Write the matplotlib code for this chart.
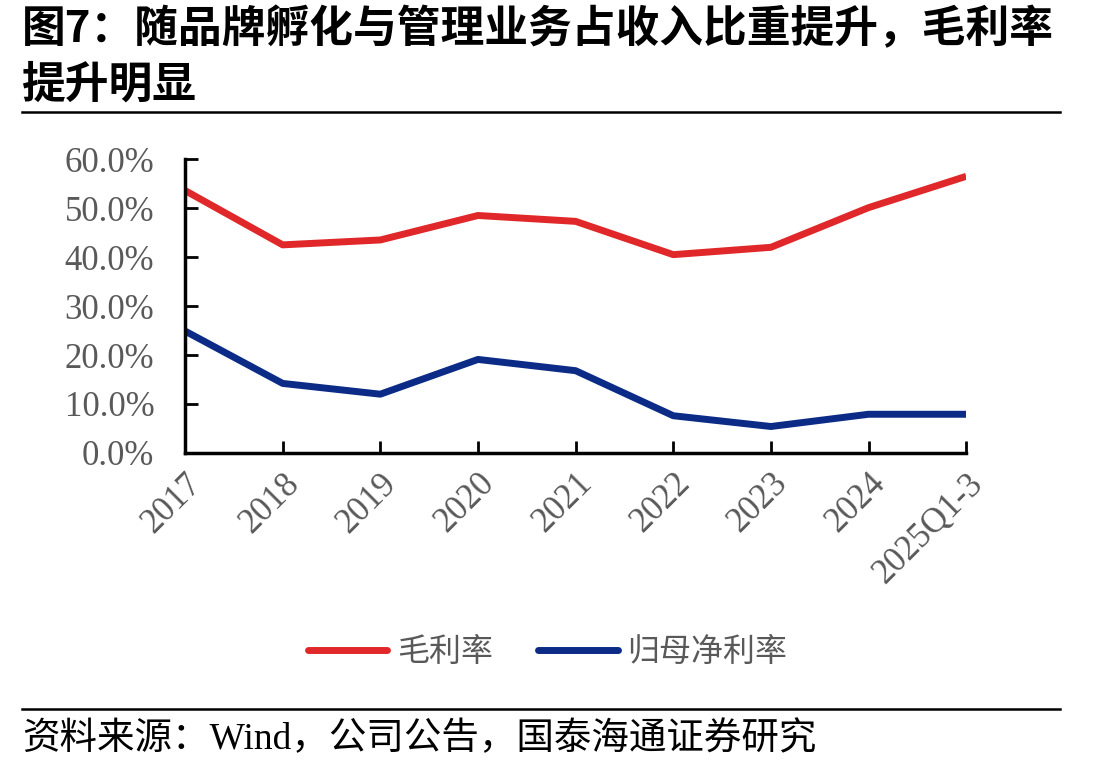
import matplotlib
matplotlib.use('Agg')
import matplotlib.pyplot as plt
from matplotlib.lines import Line2D

plt.rcParams['font.family'] = ['Liberation Serif', 'Noto Sans CJK SC', 'DejaVu Sans']

# 数据
years = ['2017', '2018', '2019', '2020', '2021', '2022', '2023', '2024', '2025Q1-3']
gross_margin = [53.6, 42.5, 43.5, 48.5, 47.3, 40.5, 42.0, 50.1, 56.5]
net_margin = [24.9, 14.2, 12.0, 19.1, 16.8, 7.6, 5.4, 7.9, 7.9]
yticks = [0, 10, 20, 30, 40, 50, 60]

RED = '#E0282A'
BLUE = '#0B2B86'
GREY = '#595959'

fig = plt.figure(figsize=(11.08, 7.69), dpi=100)
ax = fig.add_axes([0.167, 0.411, 0.705, 0.382])

x = list(range(len(years)))
ax.plot(x, gross_margin, color=RED, linewidth=5, solid_capstyle='butt', label='毛利率')
ax.plot(x, net_margin, color=BLUE, linewidth=5, solid_capstyle='butt', label='归母净利率')

ax.set_xlim(0, len(years) - 1)
ax.set_ylim(0, 60)
ax.set_yticks(yticks)
ax.set_yticklabels([f'{v:.1f}%' for v in yticks], fontsize=25, color=GREY,
                   family='Liberation Serif')
ax.set_xticks(x)
ax.set_xticklabels(years, rotation=45, ha='right', rotation_mode='anchor',
                   fontsize=25, color=GREY, family='Liberation Serif')
ax.tick_params(axis='both', direction='in', length=9, width=2, colors='black',
               labelcolor=GREY)
ax.tick_params(axis='y', pad=22)
ax.tick_params(axis='x', pad=10)
for s in ['top', 'right']:
    ax.spines[s].set_visible(False)
for s in ['left', 'bottom']:
    ax.spines[s].set_linewidth(2.5)
ax.set_facecolor('white')

# 标题
fig.text(0.02, 0.962, '图7：随品牌孵化与管理业务占收入比重提升，毛利率', fontsize=31.5,
         fontweight='bold', ha='left', va='center', family=['Noto Sans CJK SC'])
fig.text(0.02, 0.89, '提升明显', fontsize=31.5, fontweight='bold', ha='left', va='center',
         family=['Noto Sans CJK SC'])
fig.add_artist(Line2D([0.02, 0.957], [0.854, 0.854], color='black', linewidth=1.8))

# 图例
handles = [Line2D([], [], color=RED, linewidth=5, solid_capstyle='round'),
           Line2D([], [], color=BLUE, linewidth=5, solid_capstyle='round')]
leg = fig.legend(handles, ['毛利率', '归母净利率'], loc='center', bbox_to_anchor=(0.494, 0.152),
                 ncol=2, frameon=False, handlelength=2.5, handletextpad=0.3,
                 columnspacing=1.4, prop={'family': 'Noto Sans CJK SC', 'size': 23})
for t in leg.get_texts():
    t.set_color(GREY)

# 资料来源
fig.add_artist(Line2D([0.02, 0.957], [0.078, 0.078], color='black', linewidth=1.8))
fig.text(0.02, 0.038, '资料来源：Wind，公司公告，国泰海通证券研究', fontsize=27,
         ha='left', va='center', family=['Liberation Serif', 'Noto Sans CJK SC'])

fig.savefig('out.png', dpi=100, facecolor='white')
